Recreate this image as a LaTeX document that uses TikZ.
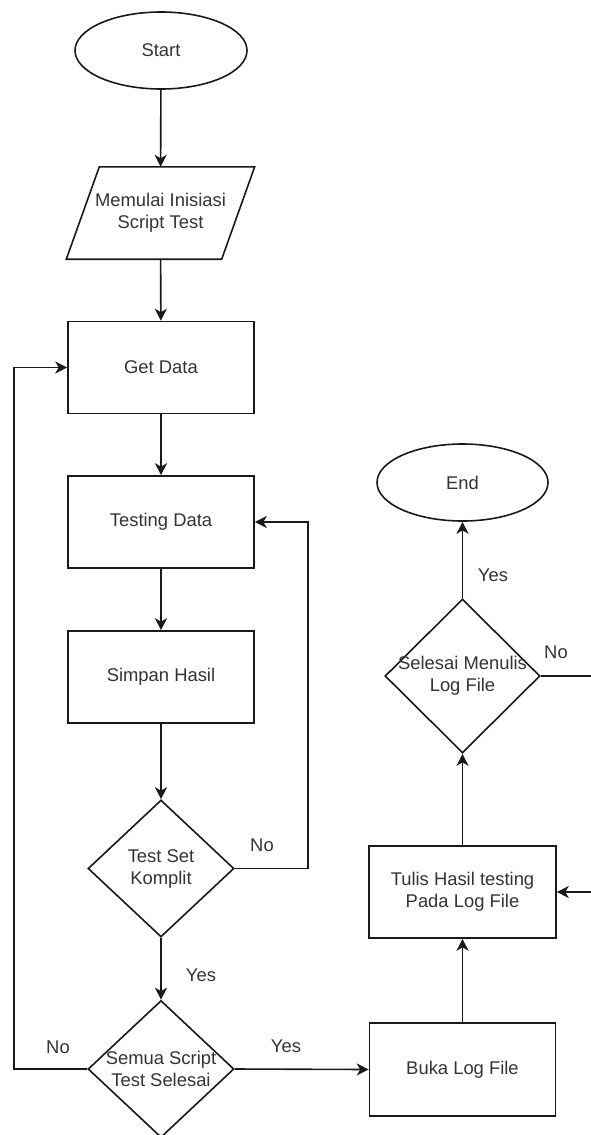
\documentclass[tikz,border=0pt]{standalone}
\usepackage{fontspec}
\setmainfont{Liberation Sans}
\usetikzlibrary{shapes.geometric,arrows.meta}
\begin{document}
\begin{tikzpicture}[x=1pt,y=-1pt,
  every node/.style={font=\fontsize{18.4}{22}\selectfont, text=black!80, align=center},
  ln/.style={line width=1.6pt, draw=black!90},
  arr/.style={ln, -{Stealth[length=12pt,width=12pt,inset=3.5pt]}},
  term/.style={ellipse, draw=black!90, line width=1.6pt, minimum width=172pt, minimum height=77pt, inner sep=0pt},
  procbox/.style={rectangle, draw=black!90, line width=1.6pt, minimum width=186pt, minimum height=92pt, inner sep=0pt},
  decide/.style={diamond, draw=black!90, line width=1.6pt, inner sep=0pt},
  lbl/.style={inner sep=0pt}
]
\useasboundingbox (0,0) rectangle (591,1135);

% nodes
\node[term] (start) at (161,50.5) {Start};
\node[rectangle, minimum width=155pt, minimum height=92pt, inner sep=0pt] (io) at (160.5,213) {Memulai Inisiasi\\Script Test};
\draw[ln] ([xshift=16.5pt]io.north west) -- ([xshift=16.5pt]io.north east) -- ([xshift=-16.5pt]io.south east) -- ([xshift=-16.5pt]io.south west) -- cycle;
\node[procbox] (get) at (161,367.5) {Get Data};
\node[procbox] (test) at (161,522) {Testing Data};
\node[procbox] (simpan) at (161,677) {Simpan Hasil};
\node[decide, minimum width=146pt, minimum height=137pt] (dset) at (161,868.5) {};
\node at (dset) {Test Set\\Komplit};
\node[decide, minimum width=146pt, minimum height=137pt] (dall) at (161,1069) {};
\node at (dall) {Semua Script\\Test Selesai};
\node[procbox, minimum width=186pt, minimum height=93pt] (buka) at (462.5,1069.5) {Buka Log File};
\node[procbox, minimum width=187pt] (tulis) at (462.5,892) {Tulis Hasil testing\\Pada Log File};
\node[decide, minimum width=155pt, minimum height=154pt] (dlog) at (462.5,676) {};
\node at (dlog) {Selesai Menulis\\Log File};
\node[term, minimum width=171pt] (end) at (462.5,482.5) {End};

% coordinates for loops and off-page ends
\coordinate (lx) at (14,0);
\coordinate (rx) at (308,0);
\coordinate (offr1) at (591,676);
\coordinate (offr2) at (591,892);

% connectors
\draw[arr] (start) -- (io);
\draw[arr] (io) -- (get);
\draw[arr] (get) -- (test);
\draw[arr] (test) -- (simpan);
\draw[arr] (simpan) -- (dset);
\draw[arr] (dset) -- (dall);
\draw[arr] (dset.east) -| (rx |- test.east) -- (test.east);
\draw[arr] (dall.west) -| (lx |- get.west) -- (get.west);
\draw[arr] (dall.east) -- (buka.west);
\draw[arr] (buka) -- (tulis);
\draw[arr] (tulis) -- (dlog);
\draw[arr] (dlog) -- (end);
\draw[ln] (dlog.east) -- (offr1);
\draw[arr] (offr2) -- (tulis.east);

% labels
\node[lbl] (lno1) at (262,845) {No};
\node[lbl] (lyes1) at (201,975) {Yes};
\node[lbl] (lno2) at (58,1047) {No};
\node[lbl] (lyes2) at (286,1046) {Yes};
\node[lbl] (lyes3) at (493,575) {Yes};
\node[lbl] (lno3) at (556,652) {No};
\end{tikzpicture}
\end{document}
